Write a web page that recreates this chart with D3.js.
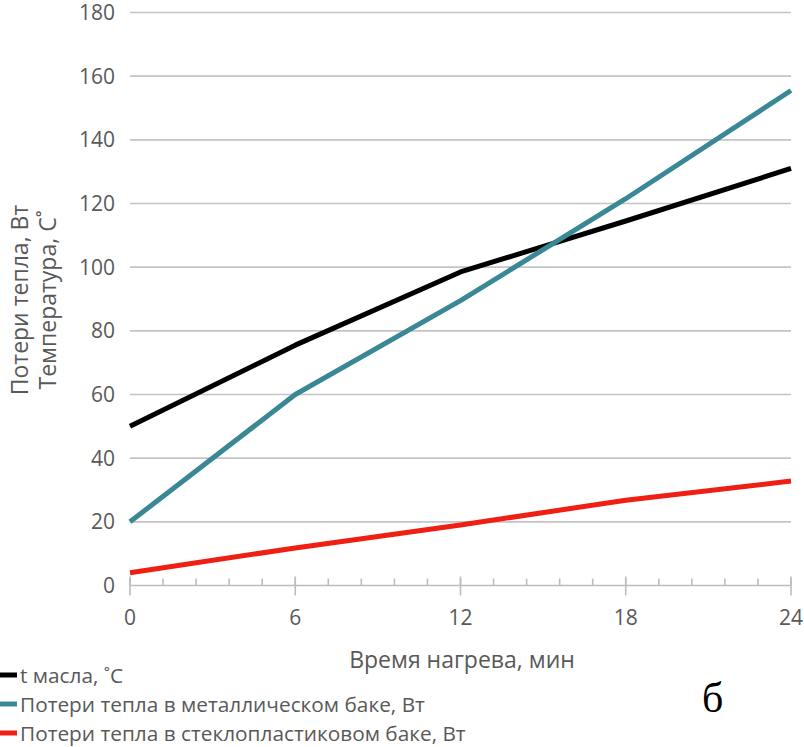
<!DOCTYPE html>
<html><head><meta charset="utf-8">
<script src="https://cdn.jsdelivr.net/npm/d3@7"></script>
<style>body{margin:0;background:#fff}svg{display:block}</style>
</head><body>
<svg id="c" width="804" height="747"></svg>
<script>
const times = [0, 6, 12, 18, 24];
const oilTemp = [50, 75.5, 98.5, 114.5, 131];
const lossMetal = [20, 60, 89.5, 121.5, 155.5];
const lossGlass = [4, 11.8, 19, 26.8, 32.8];
const seriesNames = ["t масла, ˚С", "Потери тепла в металлическом баке, Вт", "Потери тепла в стеклопластиковом баке, Вт"];
const seriesColors = ["#000000", "#3a8896", "#ef1f14"];
const yTicks = [0, 20, 40, 60, 80, 100, 120, 140, 160, 180];
const xTicks = [0, 6, 12, 18, 24];
const xMinorTicks = d3.range(0, 24.01, 1.2);

const svg = d3.select("#c");
const font = "'Open Sans', sans-serif";
const x = d3.scaleLinear().domain([0, 24]).range([130, 791]);
const y = d3.scaleLinear().domain([0, 180]).range([585.5, 12.5]);

svg.append("g").selectAll("line").data(yTicks.filter(d => d > 0)).join("line")
  .attr("x1", x(0)).attr("x2", x(24))
  .attr("y1", d => y(d)).attr("y2", d => y(d))
  .attr("stroke", "#c4c4c4").attr("stroke-width", 1.6);

svg.append("g").selectAll("text").data(yTicks).join("text")
  .attr("x", 115).attr("y", d => y(d) + 7.5)
  .attr("text-anchor", "end").attr("font-family", font).attr("font-size", 21)
  .attr("fill", "#595959").text(d => d);

svg.append("line").attr("x1", x(0)).attr("x2", x(24)).attr("y1", y(0)).attr("y2", y(0))
  .attr("stroke", "#bdbdbd").attr("stroke-width", 1.6);
svg.append("g").selectAll("line").data(xMinorTicks).join("line")
  .attr("x1", d => x(d)).attr("x2", d => x(d)).attr("y1", y(0) - 7).attr("y2", y(0))
  .attr("stroke", "#bdbdbd").attr("stroke-width", 1.6);
svg.append("g").selectAll("line").data(xTicks).join("line")
  .attr("x1", d => x(d)).attr("x2", d => x(d)).attr("y1", y(0) - 9).attr("y2", y(0) + 10)
  .attr("stroke", "#bdbdbd").attr("stroke-width", 1.6);
svg.append("g").selectAll("text").data(xTicks).join("text")
  .attr("x", d => x(d)).attr("y", 625)
  .attr("text-anchor", "middle").attr("font-family", font).attr("font-size", 21)
  .attr("fill", "#595959").text(d => d);

svg.append("text").attr("x", 462).attr("y", 668).attr("text-anchor", "middle")
  .attr("font-family", font).attr("font-size", 23).attr("fill", "#595959")
  .text("Время нагрева, мин");
const yt = svg.append("text").attr("transform", "translate(0,300) rotate(-90)")
  .attr("text-anchor", "middle").attr("font-family", font).attr("font-size", 23).attr("fill", "#595959");
yt.append("tspan").attr("x", 0).attr("y", 28).text("Потери тепла, Вт");
yt.append("tspan").attr("x", 0).attr("y", 56).text("Температура, С˚");

const data = [oilTemp, lossMetal, lossGlass];
const line = d3.line().x((d, i) => x(times[i])).y(d => y(d));
svg.append("g").selectAll("path").data(data).join("path")
  .attr("d", line).attr("fill", "none")
  .attr("stroke", (d, i) => seriesColors[i]).attr("stroke-width", 5)
  .attr("stroke-linejoin", "round");

const lg = svg.append("g").selectAll("g").data(seriesNames).join("g")
  .attr("transform", (d, i) => `translate(0,${675 + i * 29})`);
lg.append("line").attr("x1", 0).attr("x2", 17).attr("y1", 0).attr("y2", 0)
  .attr("stroke", (d, i) => seriesColors[i]).attr("stroke-width", 5);
lg.append("text").attr("x", 20).attr("y", 7.5).attr("font-family", font).attr("font-size", 20.8)
  .attr("fill", "#595959").text(d => d);

svg.append("text").attr("x", 702).attr("y", 712).attr("font-family", "'Liberation Serif', serif")
  .attr("font-size", 42).attr("fill", "#000").text("б");
</script>
</body></html>
